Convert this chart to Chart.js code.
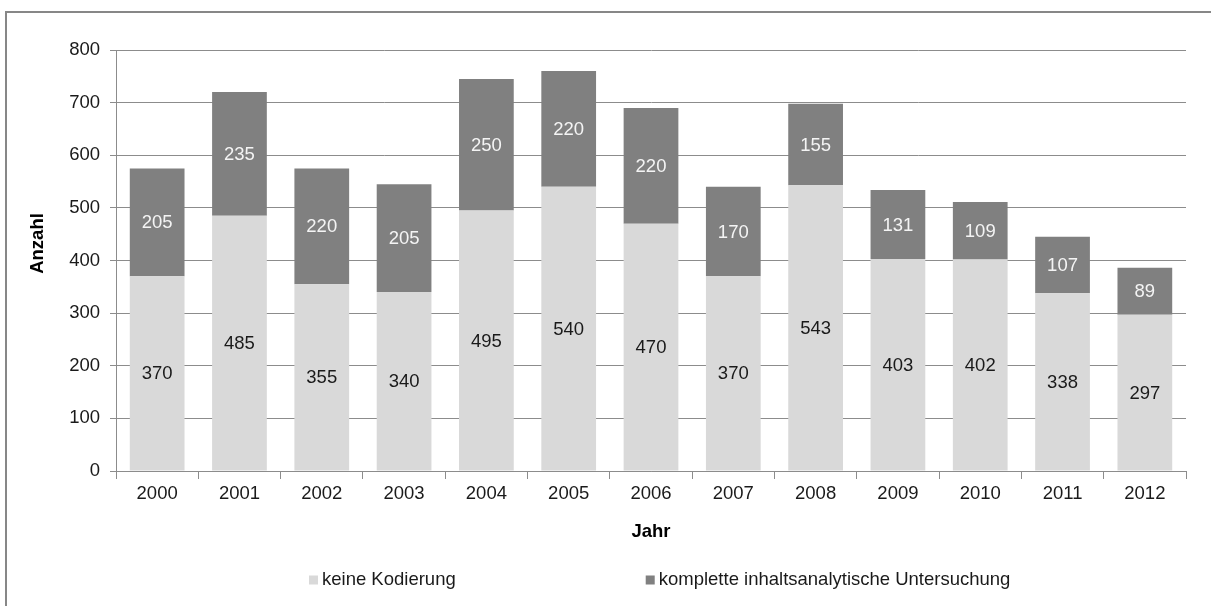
<!DOCTYPE html>
<html>
<head>
<meta charset="utf-8">
<script src="https://cdn.jsdelivr.net/npm/chart.js@4.4.1/dist/chart.umd.min.js"></script>
<style>
  html, body { margin: 0; padding: 0; background: #fff; overflow: hidden; }
  #wrap { position: relative; width: 1211px; height: 606px; }
  #chart { position: absolute; left: 0; top: 0; }
  #frame {
    position: absolute; left: 5px; top: 11px; width: 1300px; height: 700px;
    border-left: 2px solid #878787; border-top: 2px solid #878787;
    pointer-events: none;
  }
</style>
</head>
<body>
<div id="wrap">
  <canvas id="chart" width="1211" height="606"></canvas>
  <div id="frame"></div>
</div>
<script>
// Jahre (Kategorien)
const jahre = ['2000', '2001', '2002', '2003', '2004', '2005', '2006',
               '2007', '2008', '2009', '2010', '2011', '2012'];
// Anzahl ohne Kodierung
const keineKodierung = [370, 485, 355, 340, 495, 540, 470, 370, 543, 403, 402, 338, 297];
// Anzahl mit kompletter inhaltsanalytischer Untersuchung
const kompletteUntersuchung = [205, 235, 220, 205, 250, 220, 220, 170, 155, 131, 109, 107, 89];
// Achse
const yMin = 0, yMax = 800, yStep = 100;
const serienNamen = ['keine Kodierung', 'komplette inhaltsanalytische Untersuchung'];

const FONT = '"Liberation Sans", Arial, Helvetica, sans-serif';
const FS = 18.5;
const GRID = '#8c8c8c';
const HELL = '#d9d9d9';
const DUNKEL = '#808080';

Chart.defaults.font.family = FONT;
Chart.defaults.font.size = FS;
Chart.defaults.color = '#1a1a1a';

// Werte mittig in die Balkensegmente schreiben
const wertBeschriftung = {
  id: 'wertBeschriftung',
  afterDatasetsDraw(chart) {
    const ctx = chart.ctx;
    ctx.save();
    ctx.font = FS + 'px ' + FONT;
    ctx.textAlign = 'center';
    ctx.textBaseline = 'middle';
    chart.data.datasets.forEach((ds, i) => {
      const meta = chart.getDatasetMeta(i);
      ctx.fillStyle = ds.labelColor;
      meta.data.forEach((bar, j) => {
        const p = bar.getCenterPoint();
        ctx.fillText(String(ds.data[j]), p.x, p.y + 1);
      });
    });
    ctx.restore();
  }
};

// Achsentitel "Anzahl" und Legende unter dem Diagramm
const rahmenText = {
  id: 'rahmenText',
  afterDraw(chart) {
    const ctx = chart.ctx;
    const area = chart.chartArea;
    ctx.save();
    // senkrechter Achsentitel
    ctx.font = 'bold ' + FS + 'px ' + FONT;
    ctx.fillStyle = '#000';
    ctx.textAlign = 'center';
    ctx.textBaseline = 'middle';
    ctx.translate(38, (area.top + area.bottom) / 2 - 17);
    ctx.rotate(-Math.PI / 2);
    ctx.fillText('Anzahl', 0, 0);
    ctx.restore();

    // Legende
    ctx.save();
    ctx.font = FS + 'px ' + FONT;
    ctx.textBaseline = 'middle';
    ctx.textAlign = 'left';
    const box = 9, boxGap = 4, itemGap = 190;
    let x = 309;
    const yMid = 580;
    chart.data.datasets.forEach((ds) => {
      ctx.fillStyle = ds.backgroundColor;
      ctx.fillRect(x, yMid - box / 2, box, box);
      ctx.fillStyle = '#1a1a1a';
      ctx.fillText(ds.label, x + box + boxGap, yMid);
      x += box + boxGap + ctx.measureText(ds.label).width + itemGap;
    });
    ctx.restore();
  }
};

new Chart(document.getElementById('chart'), {
  type: 'bar',
  data: {
    labels: jahre,
    datasets: [
      {
        label: serienNamen[0],
        data: keineKodierung,
        backgroundColor: HELL,
        labelColor: '#1a1a1a',
        categoryPercentage: 1,
        barPercentage: 0.665
      },
      {
        label: serienNamen[1],
        data: kompletteUntersuchung,
        backgroundColor: DUNKEL,
        labelColor: '#f4f4f4',
        categoryPercentage: 1,
        barPercentage: 0.665
      }
    ]
  },
  options: {
    responsive: false,
    animation: false,
    devicePixelRatio: 1,
    layout: { padding: { left: 0, top: 50, right: 25, bottom: 50 } },
    plugins: {
      legend: { display: false },
      tooltip: { enabled: false },
      title: { display: false }
    },
    scales: {
      x: {
        stacked: true,
        grid: {
          offset: true,
          drawOnChartArea: false,
          drawTicks: true,
          tickLength: 8,
          color: GRID,
          lineWidth: 1
        },
        border: { color: GRID, width: 1 },
        ticks: { padding: 4, color: '#1a1a1a', font: { size: FS } },
        title: {
          display: true,
          text: 'Jahr',
          color: '#000',
          font: { size: FS, weight: 'bold' },
          padding: { top: 0, bottom: 13 }
        },
        afterFit(scale) { scale.height = 85; }
      },
      y: {
        stacked: true,
        min: yMin,
        max: yMax,
        ticks: { stepSize: yStep, padding: 10, color: '#1a1a1a', font: { size: FS } },
        grid: { color: GRID, lineWidth: 1, tickLength: 6, drawTicks: true },
        border: { color: GRID, width: 1 },
        afterFit(scale) { scale.width = 116; }
      }
    }
  },
  plugins: [wertBeschriftung, rahmenText]
});
</script>
</body>
</html>
